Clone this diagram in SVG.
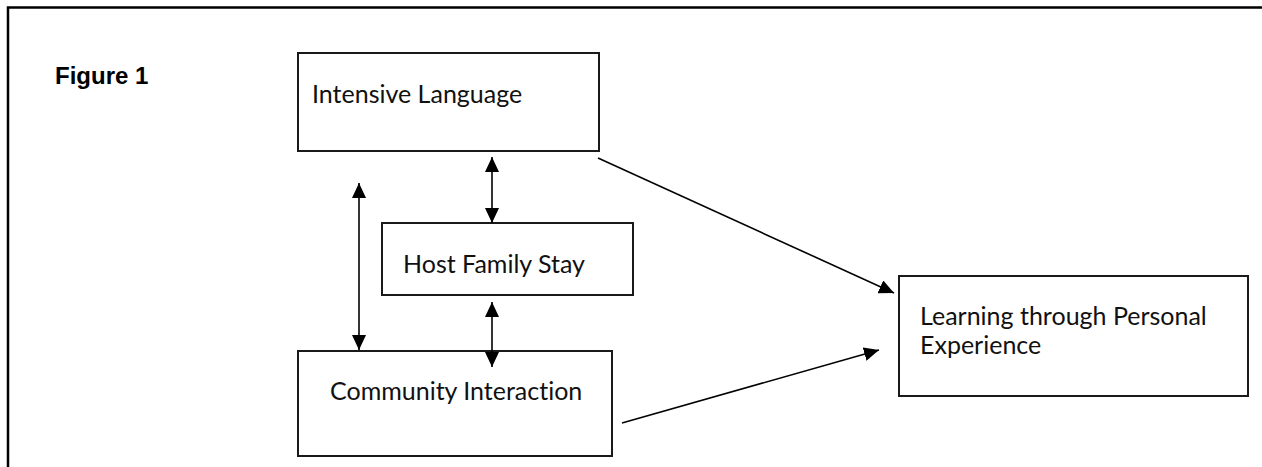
<svg xmlns="http://www.w3.org/2000/svg" width="1262" height="467" viewBox="0 0 1262 467">
  <style>
    .box { fill: #ffffff; stroke: #1a1a1a; stroke-width: 2; }
    .label { font-family: Lato, "Open Sans", "Liberation Sans", sans-serif; font-size: 25px; fill: #111111; font-variant-ligatures: none; }
    .title { font-family: "Liberation Sans", Arial, sans-serif; font-weight: bold; font-size: 24px; fill: #000000; }
    .link { stroke: #000000; stroke-width: 1.6; fill: none; }
    .frame { stroke: #000000; stroke-width: 2.5; fill: none; }
  </style>
  <defs>
    <marker id="arrow" markerUnits="userSpaceOnUse" markerWidth="16" markerHeight="14" refX="15" refY="7" orient="auto-start-reverse" viewBox="0 0 16 14">
      <path d="M0,0 L15,7 L0,14 Z" fill="#000000"/>
    </marker>
  </defs>

  <rect x="0" y="0" width="1262" height="467" fill="#ffffff"/>

  <!-- page frame: top and left rules only -->
  <path class="frame" d="M8,467 L8,7.5 L1262,7.5"/>

  <text class="title" x="55" y="84">Figure 1</text>

  <g id="intensive-language">
    <rect class="box" x="298" y="53" width="301" height="98"/>
    <text class="label" x="312" y="103">Intensive Language</text>
  </g>

  <g id="host-family-stay">
    <rect class="box" x="382" y="223" width="251" height="72"/>
    <text class="label" x="403" y="273">Host Family Stay</text>
  </g>

  <g id="community-interaction">
    <rect class="box" x="298" y="351" width="314" height="105"/>
    <text class="label" x="330" y="400">Community Interaction</text>
  </g>

  <g id="learning-experience">
    <rect class="box" x="899" y="276" width="349" height="120"/>
    <text class="label" x="920" y="325">Learning through Personal</text>
    <text class="label" x="920" y="354">Experience</text>
  </g>

  <g id="connectors">
    <!-- two-way links between the three inputs -->
    <line class="link" x1="359" y1="183" x2="359" y2="350" marker-start="url(#arrow)" marker-end="url(#arrow)"/>
    <line class="link" x1="492" y1="157" x2="492" y2="223" marker-start="url(#arrow)" marker-end="url(#arrow)"/>
    <line class="link" x1="492" y1="302" x2="492" y2="367" marker-start="url(#arrow)" marker-end="url(#arrow)"/>
    <!-- one-way links into the outcome -->
    <line class="link" x1="598" y1="158" x2="894" y2="293" marker-end="url(#arrow)"/>
    <line class="link" x1="622" y1="423" x2="879" y2="350" marker-end="url(#arrow)"/>
  </g>
</svg>
